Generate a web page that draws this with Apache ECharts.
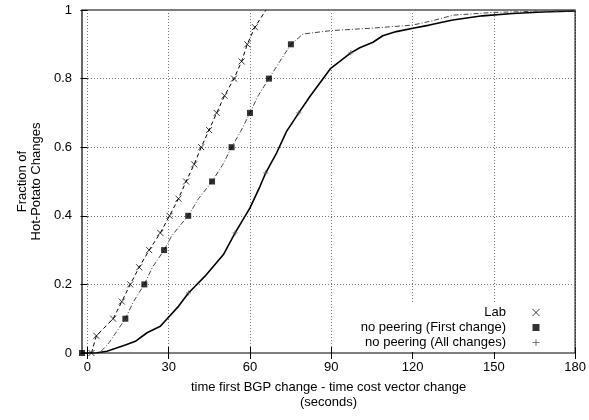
<!DOCTYPE html>
<html><head><meta charset="utf-8">
<script src="https://cdn.jsdelivr.net/npm/echarts@6/dist/echarts.min.js"></script>
<style>html,body{margin:0;padding:0;background:#fff}#c{width:589px;height:420px}</style>
</head><body><div id="c"></div>
<script>
const xTicks = [0, 30, 60, 90, 120, 150, 180];
const yTicks = [0, 0.2, 0.4, 0.6, 0.8, 1];
const seriesNames = ['Lab', 'no peering (First change)', 'no peering (All changes)'];

const labX = [1.5, 3.3, 9.5, 12.7, 15.8, 19.1, 22.8, 26.9, 30.3, 33.6, 36.4, 39.4, 42.0, 44.9, 47.7, 50.6, 54.1, 56.9, 59.0, 61.8, 65.9];
const labY = [0, 0.05, 0.1, 0.15, 0.2, 0.25, 0.3, 0.35, 0.4, 0.45, 0.5, 0.55, 0.6, 0.65, 0.7, 0.75, 0.8, 0.85, 0.9, 0.95, 1.0];
const labMarkX = [1.5, 3.3, 9.5, 12.7, 15.8, 19.1, 22.8, 26.9, 30.3, 33.6, 36.4, 39.4, 42.0, 44.9, 47.7, 50.6, 54.1, 56.9, 59.0, 61.8];
const labMarkY = [0, 0.05, 0.1, 0.15, 0.2, 0.25, 0.3, 0.35, 0.4, 0.45, 0.5, 0.55, 0.6, 0.65, 0.7, 0.75, 0.8, 0.85, 0.9, 0.95];

const firstX = [-2, 4.5, 8, 11, 14, 17, 21, 24, 28.3, 31, 34, 37.2, 41, 46, 50, 53.2, 56.5, 60, 63, 67, 71, 75.1, 79.6, 90, 105, 120, 127, 135, 150, 165, 180];
const firstY = [0, 0, 0.03, 0.065, 0.1, 0.15, 0.2, 0.25, 0.3, 0.34, 0.37, 0.4, 0.45, 0.5, 0.55, 0.6, 0.645, 0.7, 0.75, 0.8, 0.85, 0.9, 0.93, 0.94, 0.947, 0.956, 0.968, 0.985, 0.993, 0.996, 0.998];
const firstMarkX = [-2, 14, 21, 28.3, 37.2, 46, 53.2, 60, 67, 75.1];
const firstMarkY = [0, 0.1, 0.2, 0.3, 0.4, 0.5, 0.6, 0.7, 0.8, 0.9];

const allX = [-2, 3, 7.2, 14, 17.7, 22, 26.9, 33.6, 37.3, 43.4, 50.2, 54.5, 60, 63.7, 65.8, 69.8, 73.5, 78, 82.1, 89.8, 97.2, 100.5, 105.4, 109, 114, 120.1, 126.2, 134.8, 145.8, 156.9, 168, 180];
const allY = [0, 0, 0.005, 0.023, 0.034, 0.059, 0.078, 0.136, 0.175, 0.224, 0.287, 0.35, 0.423, 0.486, 0.525, 0.583, 0.646, 0.7, 0.748, 0.83, 0.875, 0.89, 0.906, 0.925, 0.937, 0.947, 0.956, 0.971, 0.983, 0.99, 0.994, 0.997];
const allMarkX = [37.3, 54.5, 65.8, 78, 97.2];
const allMarkY = [0.175, 0.35, 0.525, 0.7, 0.875];

const zip = (xs, ys) => xs.map((x, i) => [x, ys[i]]);
const FONT = 'Liberation Sans, Arial, Helvetica, sans-serif';
const crossPath = 'path://M0,0L10,10M10,0L0,10';
const plusPath = 'path://M5,0L5,10M0,5L10,5';
const squarePath = 'path://M0,0H10V10H0Z';

const chart = echarts.init(document.getElementById('c'), null, {renderer: 'canvas'});
chart.setOption({
  animation: false,
  backgroundColor: '#fff',
  textStyle: {fontFamily: FONT, color: '#000'},
  grid: {left: 82, right: 13, top: 10, bottom: 67, show: true, borderColor: '#000', borderWidth: 1.2, backgroundColor: 'transparent'},
  xAxis: [{
    type: 'value', min: -2, max: 180,
    name: 'time first BGP change - time cost vector change\n(seconds)',
    nameLocation: 'middle', nameGap: 27,
    nameTextStyle: {fontFamily: FONT, fontSize: 13, color: '#000', lineHeight: 15},
    axisLine: {show: false},
    axisTick: {show: true, inside: true, length: 6, customValues: xTicks, lineStyle: {color: '#000'}},
    axisLabel: {customValues: xTicks, fontFamily: FONT, fontSize: 13, color: '#000', margin: 8},
    splitLine: {show: true, lineStyle: {color: '#777', type: [1, 2], width: 1}}
  }, {
    type: 'value', min: -2, max: 180, position: 'top',
    axisLine: {show: false},
    axisTick: {show: true, inside: true, length: 6, customValues: xTicks, lineStyle: {color: '#000'}},
    axisLabel: {show: false}, splitLine: {show: false}
  }],
  yAxis: [{
    type: 'value', min: 0, max: 1, interval: 0.2,
    name: 'Fraction of\nHot-Potato Changes',
    nameLocation: 'middle', nameGap: 36, nameRotate: 90,
    nameTextStyle: {fontFamily: FONT, fontSize: 13, color: '#000', lineHeight: 14},
    axisLine: {show: false},
    axisTick: {show: true, inside: false, length: 7, lineStyle: {color: '#000'}},
    axisLabel: {fontFamily: FONT, fontSize: 13, color: '#000', margin: 10},
    splitLine: {show: true, lineStyle: {color: '#777', type: [1, 2], width: 1}}
  }, {
    type: 'value', min: 0, max: 1, interval: 0.2, position: 'right',
    axisLine: {show: false},
    axisTick: {show: true, inside: true, length: 6, lineStyle: {color: '#000'}},
    axisLabel: {show: false}, splitLine: {show: false}
  }],
  legend: {
    orient: 'vertical', align: 'right', right: 39, top: 303,
    itemWidth: 50, itemHeight: 7, itemGap: 2,
    padding: [3, 8, 3, 10],
    backgroundColor: '#fff',
    textStyle: {fontFamily: FONT, fontSize: 13, color: '#000'},
    data: [
      {name: seriesNames[0], icon: crossPath, itemStyle: {color: 'none', borderColor: '#000', borderWidth: 1}},
      {name: seriesNames[1], icon: squarePath, itemStyle: {color: '#000', borderWidth: 0}},
      {name: seriesNames[2], icon: plusPath, itemStyle: {color: 'none', borderColor: '#555', borderWidth: 1}}
    ]
  },
  series: [
    {type: 'line', data: zip(allX, allY), showSymbol: false, symbol: 'none', lineStyle: {color: '#000', width: 1.6}, z: 3},
    {type: 'line', data: zip(firstX, firstY), showSymbol: false, symbol: 'none', lineStyle: {color: '#444', width: 1, type: [5, 2, 1, 2]}, z: 3},
    {type: 'line', data: zip(labX, labY), showSymbol: false, symbol: 'none', lineStyle: {color: '#000', width: 1, type: [4, 3]}, z: 3},
    {type: 'scatter', name: seriesNames[0], data: zip(labMarkX, labMarkY), symbol: crossPath, symbolSize: 6,
      itemStyle: {color: 'none', borderColor: '#000', borderWidth: 1}, z: 4},
    {type: 'scatter', name: seriesNames[1], data: zip(firstMarkX, firstMarkY), symbol: squarePath, symbolSize: 6,
      itemStyle: {color: '#000'}, z: 4},
    {type: 'scatter', name: seriesNames[2], data: zip(allMarkX, allMarkY), symbol: plusPath, symbolSize: 5,
      itemStyle: {color: 'none', borderColor: '#555', borderWidth: 1}, z: 4}
  ]
});
</script></body></html>
